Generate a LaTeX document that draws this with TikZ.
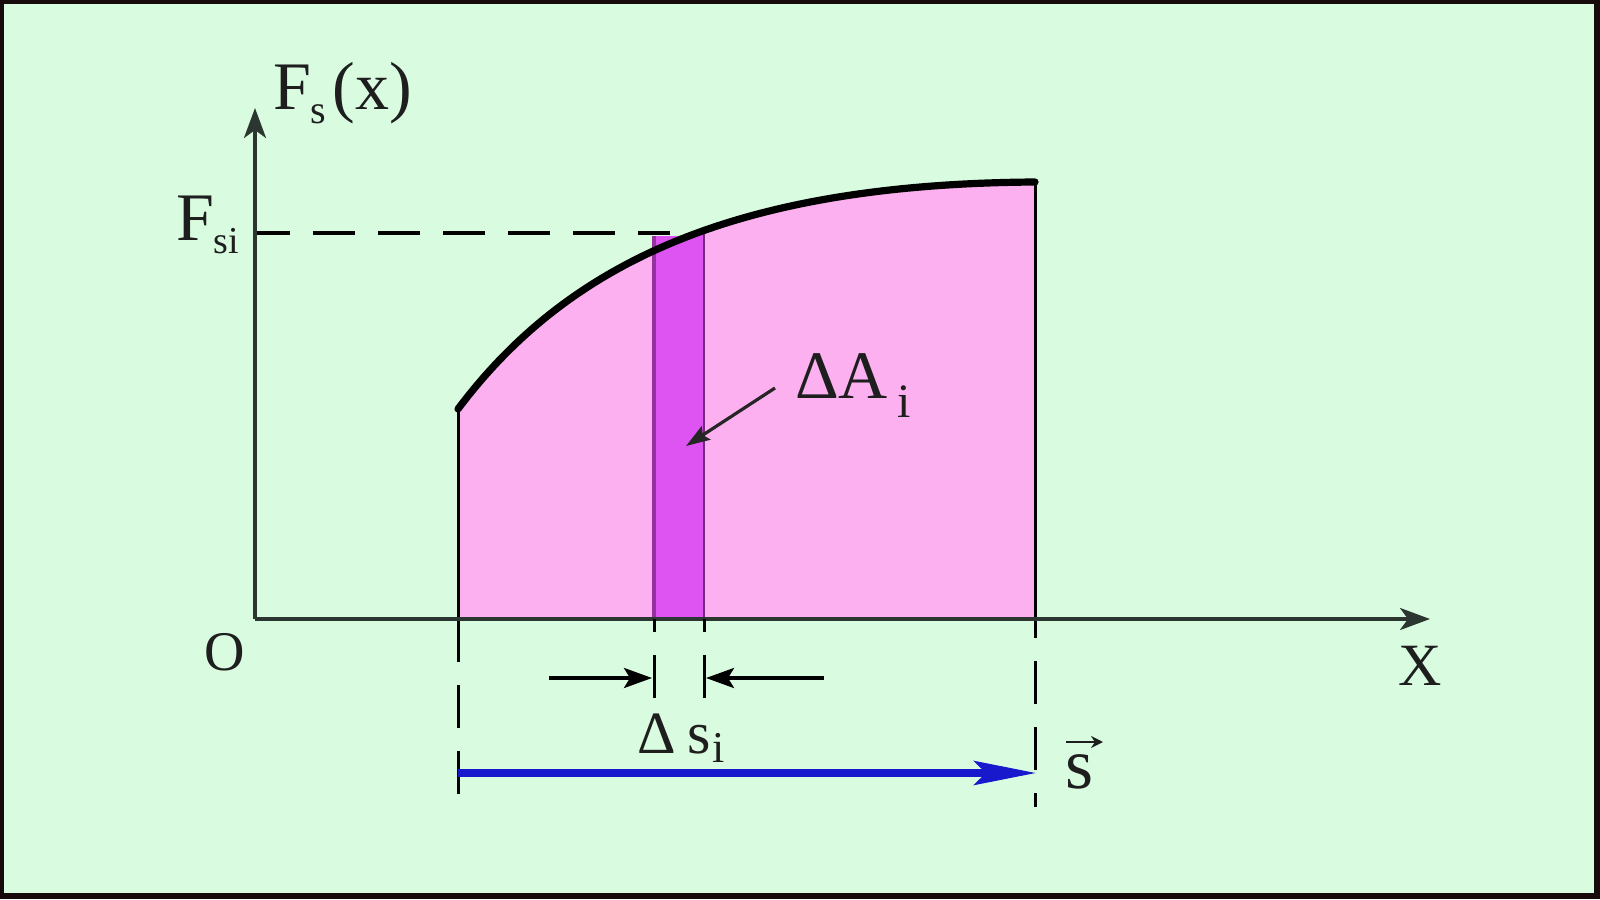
\documentclass[tikz,border=0pt]{standalone}
\usepackage{fontspec}
\setmainfont{Liberation Serif}
\usetikzlibrary{arrows.meta}
\definecolor{bg}{RGB}{217,252,224}
\definecolor{framec}{RGB}{22,10,10}
\definecolor{pinkfill}{RGB}{253,176,240}
\definecolor{stripfill}{RGB}{222,84,242}
\definecolor{stripedge}{RGB}{150,50,160}
\definecolor{axisc}{RGB}{44,54,48}
\definecolor{bluearrow}{RGB}{24,24,205}
\definecolor{txt}{RGB}{30,30,30}
\begin{document}
\begin{tikzpicture}[x=0.5pt,y=-0.5pt,
  lbl/.style={inner sep=0pt, outer sep=0pt, anchor=base west, text=txt},
  axisline/.style={draw=axisc, line width=1.7pt, -{Stealth[length=15pt,width=11pt,inset=4pt]}},
  thinline/.style={draw=black, line width=1.5pt},
  dashline/.style={draw=black, line width=1.5pt, dash pattern=on 21.5pt off 11.5pt},
  dimarrow/.style={draw=black, line width=1.8pt, -{Stealth[length=14pt,width=10pt,inset=3pt]}}]
\fill[framec] (0,0) rectangle (1600,899);
\fill[bg] (4,4) rectangle (1594,893);
\useasboundingbox (0,0) rectangle (1600,899);

% area under curve
\fill[pinkfill] (458,619) -- (458,409) .. controls (570,260) and (740,184) .. (1035,182) -- (1035,619) -- cycle;
\fill[stripfill] (653,236) rectangle (705,619);
\begin{scope}
  \clip (458,619) -- (458,409) .. controls (570,260) and (740,184) .. (1035,182) -- (1035,619) -- cycle;
  \fill[stripfill] (653,100) rectangle (705,619);
\end{scope}
\draw[stripedge, line width=1.6pt] (654,236) -- (654,619);
\draw[stripedge!80!black, line width=1.2pt] (704,232) -- (704,619);

% dashed level line
\draw[draw=black, line width=1.6pt, dash pattern=on 21pt off 11.5pt, dash phase=3.5pt] (255,233) -- (670,233);

% bounding verticals
\draw[thinline] (458,409) -- (458,619);
\draw[thinline] (1035,182) -- (1035,619);
\draw[dashline] (458,619) -- (458,796);
\draw[dashline, dash phase=12pt] (1035,619) -- (1035,807);

% curve
\draw[black, line width=3.6pt, line cap=round] (458,409) .. controls (570,260) and (740,184) .. (1035,182);

% axes
\coordinate (O) at (255,619);
\coordinate (ytip) at (255,108);
\coordinate (xtip) at (1430,619);
\draw[axisline] (O) -- (ytip);
\draw[axisline] (O) -- (xtip);

% strip ticks below axis
\draw[thinline] (654,619) -- (654,632);
\draw[thinline] (704,619) -- (704,632);
\draw[thinline] (654,655) -- (654,698);
\draw[thinline] (704,655) -- (704,698);

% dimension arrows
\coordinate (dl0) at (549,678);
\coordinate (dl1) at (652,678);
\coordinate (dr0) at (824,678);
\coordinate (dr1) at (706,678);
\draw[dimarrow] (dl0) -- (dl1);
\draw[dimarrow] (dr0) -- (dr1);

% displacement arrow
\coordinate (s0) at (458,773);
\coordinate (s1) at (1036,773);
\draw[bluearrow, line width=3.6pt, -{Stealth[length=31pt,width=12pt,inset=6pt]}] (s0) -- (s1);

% pointer to Delta A_i
\coordinate (p0) at (775,388);
\coordinate (p1) at (686,446);
\draw[black!85, line width=1.6pt, -{Stealth[length=12pt,width=8pt,inset=2pt]}] (p0) -- (p1);

% labels
\node[lbl, font=\fontsize{34}{34}\selectfont] (fsx) at (273,110)
  {F\raisebox{-7pt}{\fontsize{20}{20}\selectfont s}\hspace{3pt}(x)};
\node[lbl, font=\fontsize{34}{34}\selectfont] (fsi) at (176,240)
  {F\raisebox{-6.5pt}{\fontsize{19}{19}\selectfont si}};
\node[lbl, font=\fontsize{28}{28}\selectfont] (olbl) at (204,670) {O};
\node[lbl, font=\fontsize{30}{30}\selectfont] (xlbl) at (1398,685) {X};
\node[lbl, font=\fontsize{34}{34}\selectfont] (dai) at (795,398)
  {ΔA\hspace{5pt}\raisebox{-9.5pt}{\fontsize{24}{24}\selectfont i}};
\node[lbl, font=\fontsize{30}{30}\selectfont] (dsi) at (637,753)
  {Δ\hspace{6pt}s\hspace{1pt}\raisebox{-4.5pt}{\fontsize{22}{22}\selectfont i}};
\node[lbl, font=\fontsize{36}{36}\selectfont] (svec) at (1065,788) {s};
\coordinate (sv0) at (1066,742);
\coordinate (sv1) at (1103,742);
\draw[txt, line width=1.3pt, -{Stealth[length=6pt,width=6pt]}] (sv0) -- (sv1);
\end{tikzpicture}
\end{document}
